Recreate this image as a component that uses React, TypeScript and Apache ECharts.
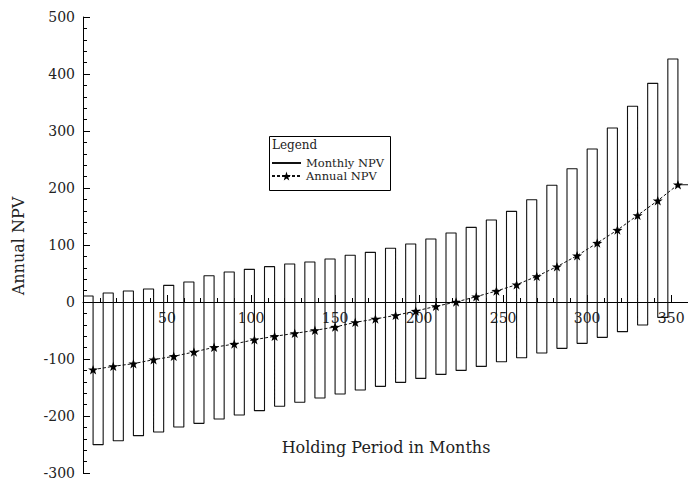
import React, { useEffect, useRef } from "react";
import * as echarts from "echarts";

// Month at which each annual NPV is evaluated (middle of each year block)
const ANNUAL_MONTHS = [6, 18, 30, 42, 54, 66, 78, 90, 102, 114, 126, 138, 150, 162, 174, 186, 198, 210, 222, 234, 246, 258, 270, 282, 294, 306, 318, 330, 342, 354];
const ANNUAL_NPV = [-118.7, -112.9, -108.2, -101.2, -95.3, -87.7, -79.5, -73.7, -66.1, -60.2, -55, -49.7, -43.9, -35.7, -29.8, -23.4, -15.8, -7.6, 0, 9.4, 19.3, 30.4, 45, 62, 81.3, 103.5, 126.3, 152, 177.8, 205.8];
// Monthly NPV: plateau before the annual month, and plateau after it
const MONTHLY_HIGH = [10.5, 15.8, 19.3, 22.8, 29.2, 35, 46, 52.6, 57.3, 62, 66.7, 70.2, 75.4, 81.9, 87.1, 94.2, 101.8, 110.5, 121, 131, 143.9, 159, 179.5, 204.7, 233.9, 268.4, 305.3, 343.3, 383.6, 426.3];
const MONTHLY_LOW = [-250.3, -243.3, -234.5, -228, -219.3, -212.9, -205.3, -198.2, -190.6, -183, -176, -168.4, -161.4, -154.4, -148, -141, -134, -127, -120, -113, -104.7, -97.7, -89.5, -81.3, -72.5, -62, -52, -40.4, -27, 205.8];
const HALF_YEAR = 6;

const X_MIN = 0;
const X_MAX = 360;
const Y_MIN = -300;
const Y_MAX = 500;

const X_TITLE = "Holding Period in Months";
const Y_TITLE = "Annual NPV";
const LEGEND_TITLE = "Legend";
const SERIES_MONTHLY = "Monthly NPV";
const SERIES_ANNUAL = "Annual NPV";

const STAR =
  "path://M0,-10L2.35,-3.24L9.51,-3.09L3.8,1.24L5.88,8.09L0,4L-5.88,8.09L-3.8,1.24L-9.51,-3.09L-2.35,-3.24Z";

const FONT = "DejaVu Serif";

// layout
const W = 688;
const H = 480;
const PLOT_LEFT = 83;
const PLOT_TOP = 17;
const PLOT_BOTTOM = 7;

export default function App() {
  const ref = useRef<HTMLDivElement>(null);
  useEffect(() => {
    if (!ref.current) return;
    const chart = echarts.init(ref.current, undefined, { renderer: "svg" });

    const monthly: [number, number][] = [];
    ANNUAL_MONTHS.forEach((m, i) => {
      monthly.push([m - HALF_YEAR, MONTHLY_HIGH[i]]);
      monthly.push([m, MONTHLY_HIGH[i]]);
      monthly.push([m, MONTHLY_LOW[i]]);
      monthly.push([m + HALF_YEAR, MONTHLY_LOW[i]]);
    });
    const annual = ANNUAL_MONTHS.map((m, i) => [m, ANNUAL_NPV[i]]);

    // pixel row of the value 0 so the x axis can sit on it
    const plotH = H - PLOT_TOP - PLOT_BOTTOM;
    const zeroFromBottom = PLOT_BOTTOM + (plotH * (0 - Y_MIN)) / (Y_MAX - Y_MIN);

    const baseGrid = { left: PLOT_LEFT, right: 0, containLabel: false, outerBoundsMode: "none" };

    chart.setOption({
      animation: false,
      textStyle: { fontFamily: FONT, color: "#222" },
      grid: [
        { ...baseGrid, top: PLOT_TOP, bottom: PLOT_BOTTOM },
        { ...baseGrid, top: PLOT_TOP, bottom: zeroFromBottom },
        { ...baseGrid, top: PLOT_TOP, bottom: zeroFromBottom },
      ],
      xAxis: [
        { type: "value", gridIndex: 0, min: X_MIN, max: X_MAX, show: false },
        {
          type: "value",
          gridIndex: 1,
          position: "bottom",
          min: X_MIN,
          max: X_MAX,
          interval: 50,
          axisLine: { show: true, onZero: false, lineStyle: { color: "#000", width: 1 } },
          axisTick: { show: true, inside: true, length: 7, lineStyle: { color: "#000" } },
          axisLabel: {
            show: true,
            margin: 9,
            fontSize: 14,
            fontFamily: FONT,
            color: "#222",
            showMinLabel: false,
            showMaxLabel: false,
          },
          splitLine: { show: false },
        },
        {
          type: "value",
          gridIndex: 2,
          position: "bottom",
          min: X_MIN,
          max: X_MAX,
          interval: 10,
          axisLine: { show: false, onZero: false },
          axisTick: { show: true, inside: true, length: 4, lineStyle: { color: "#000" } },
          axisLabel: { show: false },
          splitLine: { show: false },
        },
      ],
      yAxis: [
        {
          type: "value",
          gridIndex: 0,
          min: Y_MIN,
          max: Y_MAX,
          interval: 100,
          axisLine: { show: true, onZero: false, lineStyle: { color: "#000", width: 1 } },
          axisTick: { show: true, inside: true, length: 7, lineStyle: { color: "#000" } },
          minorTick: { show: true, splitNumber: 5, length: 4, lineStyle: { color: "#000" } },
          axisLabel: { margin: 8, fontSize: 14, fontFamily: FONT, color: "#222" },
          splitLine: { show: false },
          minorSplitLine: { show: false },
        },
        { type: "value", gridIndex: 1, min: 0, max: 1, show: false },
        { type: "value", gridIndex: 2, min: 0, max: 1, show: false },
      ],
      legend: {
        orient: "vertical",
        left: 271,
        top: 157,
        itemWidth: 29,
        itemHeight: 11,
        itemGap: 1,
        padding: 0,
        z: 10,
        textStyle: { fontFamily: FONT, fontSize: 11.5, color: "#222", lineHeight: 11 },
        data: [
          { name: SERIES_MONTHLY, itemStyle: { opacity: 0 } },
          { name: SERIES_ANNUAL },
        ],
      },
      graphic: [
        {
          type: "rect",
          left: 267,
          top: 134,
          shape: { width: 121, height: 54 },
          style: { fill: "none", stroke: "#000", lineWidth: 1 },
          z: 5,
        },
        {
          type: "text",
          left: 272,
          top: 139,
          style: { text: LEGEND_TITLE, fontFamily: FONT, fontSize: 12, fill: "#222" },
          z: 6,
        },
        {
          type: "text",
          x: 386,
          y: 447,
          style: {
            text: X_TITLE,
            fontFamily: FONT,
            fontSize: 16,
            fill: "#222",
            align: "center",
            verticalAlign: "middle",
          },
        },
        {
          type: "text",
          x: 18,
          y: 246,
          rotation: Math.PI / 2,
          style: {
            text: Y_TITLE,
            fontFamily: FONT,
            fontSize: 16,
            fill: "#222",
            align: "center",
            verticalAlign: "middle",
          },
        },
      ],
      series: [
        {
          name: SERIES_MONTHLY,
          type: "line",
          xAxisIndex: 0,
          yAxisIndex: 0,
          data: monthly,
          symbol: "none",
          lineStyle: { color: "#111", width: 1.1 },
          itemStyle: { color: "#111" },
          z: 2,
        },
        {
          name: SERIES_ANNUAL,
          type: "line",
          xAxisIndex: 0,
          yAxisIndex: 0,
          data: annual,
          symbol: STAR,
          symbolSize: 10,
          symbolKeepAspect: true,
          lineStyle: { color: "#111", width: 1, type: [3, 2] },
          itemStyle: { color: "#000" },
          z: 3,
        },
      ],
    });
    return () => chart.dispose();
  }, []);
  return (
    <div
      ref={ref}
      style={{ position: "fixed", left: 0, top: 0, width: W, height: H, background: "#fff" }}
    />
  );
}
